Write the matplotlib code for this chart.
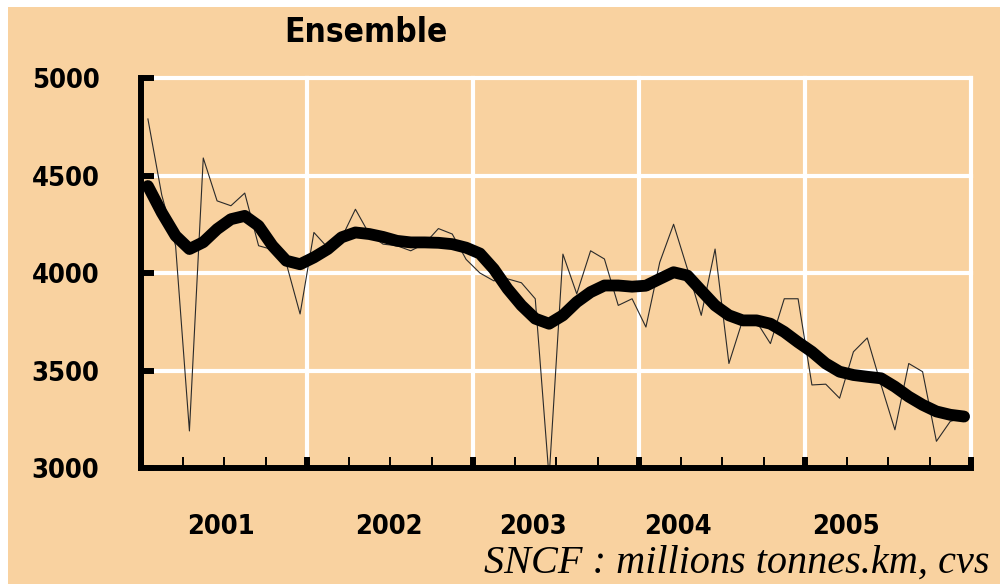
import numpy as np
import matplotlib.pyplot as plt
from matplotlib.patches import Rectangle
from matplotlib.transforms import blended_transform_factory
from matplotlib import font_manager

# monthly data 2001-2005 (millions tonnes.km, cvs)
raw = [4790, 4400, 4140, 3190, 4590, 4370, 4345, 4410, 4140, 4120, 4050, 3790,
       4208, 4130, 4180, 4327, 4200, 4148, 4140, 4114, 4150, 4228, 4200, 4070,
       4000, 3960, 3970, 3950, 3868, 2950, 4097, 3893, 4114, 4072, 3834, 3868,
       3723, 4055, 4250, 4021, 3783, 4123, 3536, 3760, 3750, 3638, 3868, 3868,
       3426, 3430, 3358, 3596, 3667, 3426, 3196, 3536, 3494, 3137, 3239, 3260]
trend = [4446, 4310, 4191, 4123, 4158, 4225, 4276, 4293, 4242, 4140, 4063, 4045,
         4080, 4123, 4183, 4208, 4200, 4185, 4165, 4157, 4157, 4155, 4148, 4130,
         4100, 4021, 3919, 3834, 3766, 3740, 3783, 3851, 3902, 3936, 3936, 3930,
         3935, 3970, 4004, 3987, 3910, 3834, 3783, 3757, 3757, 3740, 3698, 3645,
         3596, 3536, 3494, 3477, 3468, 3460, 3417, 3366, 3324, 3290, 3273, 3264]
years = ["2001", "2002", "2003", "2004", "2005"]
year_label_pos = [5.8, 17.9, 28.3, 38.8, 51.0]
yticks = [3000, 3500, 4000, 4500, 5000]

# narrow bold font, whichever is installed
names = {f.name for f in font_manager.fontManager.ttflist}
narrow = [n for n in ["Liberation Sans Narrow", "DejaVu Sans Condensed"] if n in names]
lab_font = dict(fontfamily=narrow[0] if narrow else "DejaVu Sans",
                fontstretch="condensed", fontweight="bold")

bg = "#F9D2A0"
months = np.arange(len(raw)) + 0.5

fig = plt.figure(figsize=(10, 5.84), dpi=100, facecolor="white")
fig.patches.append(Rectangle((0.008, 0), 0.992, 1 - 7 / 584, transform=fig.transFigure,
                             facecolor=bg, edgecolor="none", zorder=-10))
ax = fig.add_axes([0.141, 0.1986, 0.830, 0.6678])
ax.set_facecolor(bg)

ax.plot(months, raw, color="#2a2a2a", lw=0.8, zorder=3)
ax.plot(months, trend, color="black", lw=8.5, solid_capstyle="round",
        solid_joinstyle="round", zorder=4)

ax.set_xlim(0, 60)
ax.set_ylim(3000, 5000)

# grid
for y in yticks[1:]:
    ax.axhline(y, color="white", lw=3, zorder=1, clip_on=False)
for x in range(12, 61, 12):
    ax.axvline(x, color="white", lw=3, zorder=1, clip_on=False)

for s in ["top", "right"]:
    ax.spines[s].set_visible(False)
for s in ["left", "bottom"]:
    ax.spines[s].set_linewidth(4.3)
    ax.spines[s].set_zorder(5)

ax.set_xticks(range(0, 61, 12))
ax.set_xticklabels([])
ax.set_xticks(range(3, 60, 3), minor=True)
ax.tick_params(axis="x", which="major", direction="in", length=8, width=4.3)
ax.tick_params(axis="x", which="minor", direction="in", length=8, width=1.4)

ax.set_yticks(yticks)
ax.set_yticklabels([str(v) for v in yticks], fontsize=19.5, **lab_font)
ax.tick_params(axis="y", direction="in", length=9, width=4.3, pad=30)

trans = blended_transform_factory(ax.transData, ax.transAxes)
for pos, lab in zip(year_label_pos, years):
    ax.text(pos, -0.152, lab, transform=trans, ha="center", va="center",
            fontsize=19.5, **lab_font)

fig.text(0.366, 0.944, "Ensemble", ha="center", va="center", fontsize=24, **lab_font)
fig.text(0.990, 0.035, "SNCF : millions tonnes.km, cvs", ha="right", va="center",
         fontfamily="Liberation Serif", fontstyle="italic", fontsize=29)

fig.savefig("out.png", dpi=100, facecolor=fig.get_facecolor())
